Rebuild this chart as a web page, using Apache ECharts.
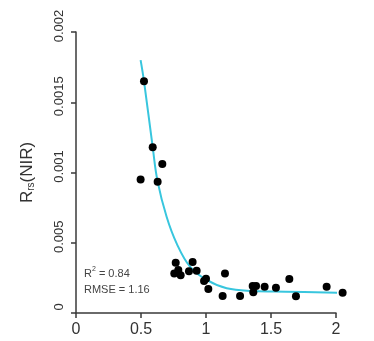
<!DOCTYPE html>
<html>
<head>
<meta charset="utf-8">
<script src="https://cdn.jsdelivr.net/npm/echarts@6/dist/echarts.min.js"></script>
<style>
  html, body { margin: 0; padding: 0; background: #fff; }
  #chart { width: 374px; height: 341px; }
</style>
</head>
<body>
<div id="chart"></div>
<script>
// measured points: x and Rrs(NIR)
const pointsX = [0.523, 0.59, 0.664, 0.497, 0.628, 0.767, 0.897, 0.756, 0.787, 0.805,
  0.869, 0.928, 1.0, 0.985, 1.018, 1.146, 1.128, 1.262, 1.359, 1.385,
  1.364, 1.451, 1.538, 1.641, 1.692, 1.928, 2.051];
const pointsY = [0.00165, 0.00118, 0.00106, 0.00095, 0.000935, 0.000358, 0.000363, 0.000282, 0.000306, 0.000268,
  0.000297, 0.000301, 0.000244, 0.000228, 0.000171, 0.000282, 0.000121, 0.000121, 0.000192, 0.000192,
  0.000147, 0.000187, 0.00018, 0.000242, 0.000119, 0.000187, 0.000144];

// fitted curve
const fitX = [0.497, 0.523, 0.59, 0.628, 0.697, 0.774, 0.877, 1.005, 1.159, 1.364, 1.613, 2.051];
const fitY = [0.0018, 0.00165, 0.00118, 0.000935, 0.000685, 0.000496, 0.00033, 0.000235, 0.000176, 0.000157, 0.000152, 0.000144];

const xTickLabels = ['0', '0.5', '1', '1.5', '2'];
const yTickLabels = ['0', '0.005', '0.001', '0.0015', '0.002'];
const statsLines = ['R{sup|2} = 0.84', 'RMSE = 1.16'];

const chart = echarts.init(document.getElementById('chart'));

const axisColor = '#3a3a3a';
const font = 'Liberation Sans';

const option = {
  backgroundColor: '#fff',
  animation: false,
  grid: { left: 76, right: 38, top: 32, bottom: 28 },
  xAxis: {
    type: 'value',
    min: 0,
    max: 2,
    interval: 0.5,
    splitLine: { show: false },
    axisLine: { show: true, lineStyle: { color: axisColor, width: 1.5 } },
    axisTick: { show: true, length: 5, lineStyle: { color: axisColor, width: 1.5 } },
    axisLabel: {
      margin: 9,
      fontFamily: font,
      fontSize: 16,
      color: '#333',
      formatter: (v) => xTickLabels[Math.round(v / 0.5)]
    }
  },
  yAxis: {
    type: 'value',
    min: 0,
    max: 0.002,
    interval: 0.0005,
    splitLine: { show: false },
    axisLine: { show: true, lineStyle: { color: axisColor, width: 1.5 } },
    axisTick: { show: true, length: 5, lineStyle: { color: axisColor, width: 1.5 } },
    axisLabel: {
      rotate: 90,
      margin: 10,
      fontFamily: font,
      fontSize: 13,
      color: '#333',
      padding: [0, 0, 0, 12],
      formatter: (v) => yTickLabels[Math.round(v / 0.0005)]
    },
    name: '{main|R}{sub|rs}{main|(NIR)}',
    nameLocation: 'middle',
    nameRotate: 90,
    nameGap: 40,
    nameTextStyle: {
      rich: {
        main: { fontFamily: font, fontSize: 17, color: '#333' },
        sub: { fontFamily: font, fontSize: 10, color: '#333', verticalAlign: 'bottom', padding: [8, 0, 0, 0] }
      }
    }
  },
  graphic: [{
    type: 'text',
    left: 84,
    top: 266,
    style: {
      text: statsLines.join('\n'),
      font: '11px "Liberation Sans", sans-serif',
      fontFamily: font,
      fontSize: 11,
      lineHeight: 16,
      fill: '#444',
      rich: {
        sup: { fontFamily: font, fontSize: 7, fill: '#444', verticalAlign: 'top', padding: [0, 0, 6, 0] }
      }
    }
  }],
  series: [
    {
      type: 'line',
      data: fitX.map((x, i) => [x, fitY[i]]),
      smooth: 0.4,
      showSymbol: false,
      clip: false,
      lineStyle: { color: '#38c6de', width: 2 },
      z: 2
    },
    {
      type: 'scatter',
      data: pointsX.map((x, i) => [x, pointsY[i]]),
      symbolSize: 8,
      clip: false,
      itemStyle: { color: '#000', opacity: 1 },
      z: 3
    }
  ]
};

chart.setOption(option);
</script>
</body>
</html>
